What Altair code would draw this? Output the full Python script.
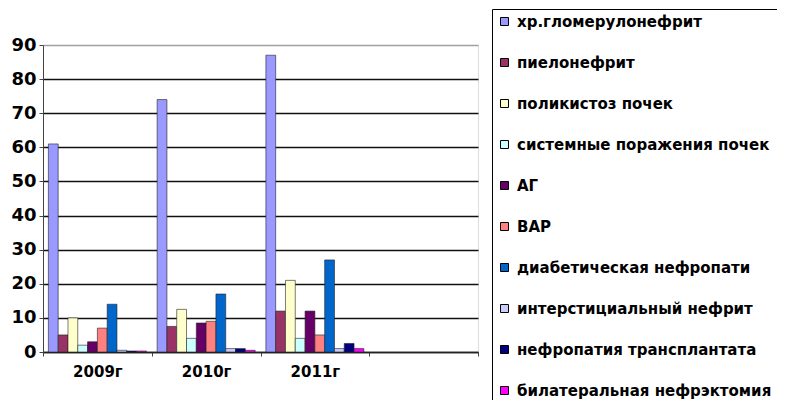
import altair as alt
import pandas as pd

years = ["2009г", "2010г", "2011г", "2012"]
series = [
    "хр.гломерулонефрит",
    "пиелонефрит",
    "поликистоз почек",
    "системные поражения почек",
    "АГ",
    "ВАР",
    "диабетическая нефропати",
    "интерстициальный нефрит",
    "нефропатия трансплантата",
    "билатеральная нефрэктомия",
]
colors = ["#9999FF", "#993366", "#FFFFCC", "#CCFFFF", "#660066",
          "#FF8080", "#0066CC", "#CCCCFF", "#000080", "#FF00FF"]

v2009 = [61, 5, 10, 2, 3, 7, 14, 0.5, 0.3, 0.3]
v2010 = [74, 7.5, 12.5, 4, 8.5, 9, 17, 1, 1, 0.5]
v2011 = [87, 12, 21, 4, 12, 5, 27, 1, 2.5, 1]

rows = []
for yr, vals in zip(years[:3], [v2009, v2010, v2011]):
    for s, v in zip(series, vals):
        rows.append({"year": yr, "series": s, "value": v})
df = pd.DataFrame(rows)

FONT = "DejaVu Sans"

chart = alt.Chart(df).mark_bar(stroke="#222222", strokeWidth=0.6).encode(
    x=alt.X("year:N", sort=years,
            scale=alt.Scale(domain=years, paddingInner=0, paddingOuter=0),
            axis=alt.Axis(title=None, labelAngle=0, tickBand="extent",
                          labelExpr="datum.value == '2012' ? '' : datum.value",
                          labelFont=FONT, labelFontSize=15, labelFontWeight="bold",
                          labelColor="black", labelPadding=8, tickSize=4,
                          tickColor="#444444", domainColor="#222222",
                          domainWidth=1.5, grid=False)),
    xOffset=alt.XOffset("series:N", sort=series,
                        scale=alt.Scale(domain=series, paddingInner=0, paddingOuter=0.55)),
    y=alt.Y("value:Q",
            scale=alt.Scale(domain=[0, 90], nice=False),
            axis=alt.Axis(title=None, values=list(range(0, 91, 10)),
                          labelFont=FONT, labelFontSize=18, labelFontWeight="bold",
                          labelColor="black", labelPadding=3, tickSize=4,
                          tickColor="#444444", domainColor="#444444",
                          gridColor={"condition": {"test": "datum.value == 90", "value": "#A0A0A0"},
                                     "value": "#111111"},
                          gridWidth=1.4)),
    color=alt.Color("series:N", sort=series,
                    scale=alt.Scale(domain=series, range=colors),
                    legend=alt.Legend(title=None, orient="none", legendX=449, legendY=-36,
                                      direction="vertical", columns=1,
                                      symbolType="square", symbolSize=64,
                                      symbolStrokeColor="black", symbolStrokeWidth=1,
                                      labelFont=FONT, labelFontSize=15, labelFontWeight="bold",
                                      labelColor="black", labelLimit=400, labelOffset=5,
                                      rowPadding=25, padding=5,
                                      strokeColor="black")),
).properties(
    width=435,
    height=307,
    autosize=alt.AutoSizeParams(type="none"),
    padding={"left": 35, "top": 37, "right": 299, "bottom": 48},
).configure_view(
    fill="#C8C8C8",
    stroke="#A0A0A0",
).configure(background="white")

chart.save("out.html", embed_options={"renderer": "svg", "actions": False})
